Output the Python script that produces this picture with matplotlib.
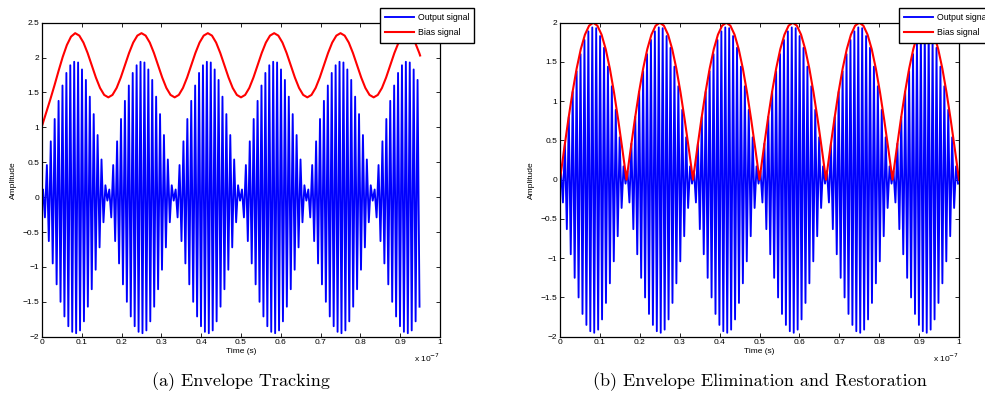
import matplotlib
matplotlib.use("Agg")
import matplotlib.pyplot as plt
import numpy as np

# time axis is in units of 1e-7 s
t_end_a = 0.95
t_end_b = 1.0
lobe_len = 1.0 / 6  # one envelope lobe (30 MHz |sin|)

# carrier half-cycle peaks across one envelope lobe (alternating sign)
lobe_peaks = [0.11, -0.29, 0.46, -0.63, 0.80, -0.95, 1.12, -1.25, 1.38, -1.50,
              1.60, -1.71, 1.78, -1.85, 1.89, -1.93, 1.94, -1.95, 1.93, -1.91,
              1.83, -1.78, 1.68, -1.57, 1.44, -1.32, 1.19, -1.04, 0.89, -0.72,
              0.54, -0.36, 0.17, -0.05]

# bias signal (a): start-up rise, then one period sampled 16 times
bias_a_rise = [1.02, 1.21, 1.40, 1.60, 1.81, 2.01, 2.18, 2.30, 2.35]
bias_a_period = [2.315, 2.215, 2.066, 1.89, 1.714, 1.565, 1.465, 1.43,
                 1.465, 1.565, 1.714, 1.89, 2.066, 2.215, 2.315, 2.35]
bias_a_last = 2.03

# bias signal (b): one rectified lobe sampled 16 times
bias_b_lobe = [0.0, 0.39, 0.765, 1.111, 1.414, 1.663, 1.848, 1.962,
               2.0, 1.962, 1.848, 1.663, 1.414, 1.111, 0.765, 0.39]

xticks = [0, 0.1, 0.2, 0.3, 0.4, 0.5, 0.6, 0.7, 0.8, 0.9, 1]
xticklabels = ["0", "0.1", "0.2", "0.3", "0.4", "0.5", "0.6", "0.7", "0.8", "0.9", "1"]


def carrier(t_end):
    n = len(lobe_peaks)
    ts = [0.0]
    ys = [0.0]
    for j in range(6):
        for i, p in enumerate(lobe_peaks):
            t = (j + (i + 0.5) / n) * lobe_len
            if t > t_end:
                break
            ts.append(t)
            ys.append(p)
    return np.array(ts), np.array(ys)


step = lobe_len / 16
ya = bias_a_rise + bias_a_period * 6
ta = np.arange(len(ya)) * step
keep = ta < t_end_a
ta = np.append(ta[keep], t_end_a)
ya = np.append(np.array(ya)[keep], bias_a_last)

yb = bias_b_lobe * 6 + [0.0]
tb = np.arange(len(yb)) * step

fig = plt.figure(figsize=(9.85, 4.01), dpi=100)
ax1 = fig.add_axes([42 / 985, 1 - 336.7 / 401, 398 / 985, 314 / 401])
ax2 = fig.add_axes([560 / 985, 1 - 336.7 / 401, 399 / 985, 314 / 401])

tfont = "Liberation Sans"

for ax, t_end, tr, yr, ylim, yticks, leg_x in [
        (ax1, t_end_a, ta, ya, (-2, 2.5), np.arange(-2, 2.51, 0.5), 380),
        (ax2, t_end_b, tb, yb, (-2, 2), np.arange(-2, 2.01, 0.5), 899)]:
    tc, yc = carrier(t_end)
    ax.plot(tc, yc, color="#0000ff", lw=1.35, label="Output signal")
    ax.plot(tr, yr, color="#ff0000", lw=1.5, label="Bias signal")
    ax.set_xlim(0, 1)
    ax.set_ylim(*ylim)
    ax.set_xticks(xticks)
    ax.set_xticklabels(xticklabels, fontfamily=tfont, fontsize=6)
    ax.set_yticks(yticks)
    ax.set_yticklabels([("%g" % v).replace("-", "\u2212") for v in yticks],
                       fontfamily=tfont, fontsize=6)
    ax.tick_params(direction="in", length=3, width=0.6, top=True, right=True, pad=2)
    for s in ax.spines.values():
        s.set_linewidth(0.9)
    ax.set_xlabel("Time (s)", fontfamily=tfont, fontsize=6, labelpad=1)
    ax.set_ylabel("Amplitude", fontfamily=tfont, fontsize=6, labelpad=4)
    ax.text(1.0, -0.047, r"x 10$^{-7}$", transform=ax.transAxes, ha="right",
            va="top", fontfamily=tfont, fontsize=6)
    leg = ax.legend(loc="upper left", bbox_to_anchor=(leg_x / 985, 1 - 8 / 401),
                    bbox_transform=fig.transFigure, prop={"family": tfont, "size": 6.3},
                    fancybox=False, framealpha=1, edgecolor="black",
                    handlelength=3.3, borderpad=0.6, labelspacing=0.7,
                    handletextpad=0.4, borderaxespad=0)
    leg.get_frame().set_linewidth(1.0)

fig.text(241 / 985, 1 - 382 / 401, "(a) Envelope Tracking", ha="center",
         va="center", fontfamily="cmr10", fontsize=13)
fig.text(760 / 985, 1 - 382 / 401, "(b) Envelope Elimination and Restoration",
         ha="center", va="center", fontfamily="cmr10", fontsize=13)

fig.savefig("out.png", dpi=100)
